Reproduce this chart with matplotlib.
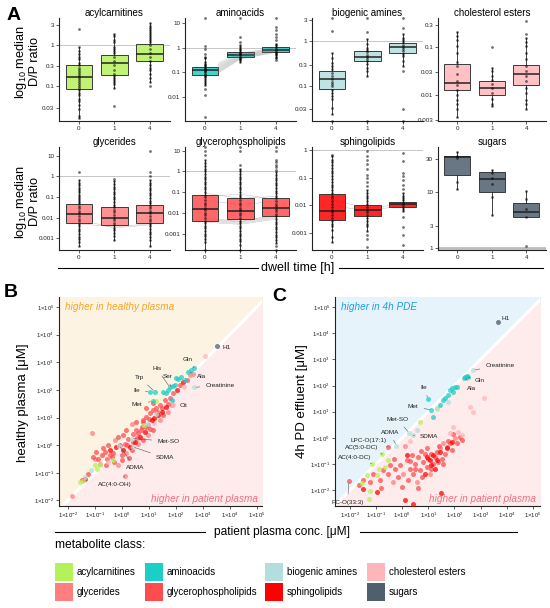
#!/usr/bin/env python3
"""Dwell-time D/P ratio box plots (A) and metabolite concentration scatter plots (B, C)."""
import numpy as np
import matplotlib
matplotlib.use("Agg")
import matplotlib.pyplot as plt
from matplotlib.colors import to_rgba
from matplotlib.lines import Line2D
from matplotlib.patches import Rectangle
from matplotlib.ticker import NullLocator

plt.rcParams["font.family"] = ["Liberation Sans", "DejaVu Sans"]
plt.rcParams["mathtext.fontset"] = "custom"
plt.rcParams["mathtext.rm"] = "Liberation Sans"
plt.rcParams["mathtext.it"] = "Liberation Sans:italic"

# ---------------- metabolite classes ----------------
classes = ["acylcarnitines", "aminoacids", "biogenic amines", "cholesterol esters",
           "glycerides", "glycerophospholipids", "sphingolipids", "sugars"]
class_colors = ["#b5f25a", "#1ccfc6", "#b4dedd", "#ffb6b9",
                "#ff7f80", "#ff4c4f", "#ff0000", "#4f5f6e"]

# ---------------- panel A: log10 D/P ratio, dwell time 0 / 1 / 4 h ----------------
dwell_times = ["0", "1", "4"]

# boxes as [q1, median, q3] (log10 units; sugars in linear units)
acyl_box = [[-1.07, -0.77, -0.50], [-0.73, -0.44, -0.25], [-0.39, -0.23, 0.01]]
acyl_pts_0 = [0.38, -0.05, -0.15, -0.22, -0.3, -0.35, -0.45, -0.5, -0.55, -0.6, -0.65, -0.7, -0.75,
              -0.8, -0.85, -0.9, -0.95, -1.0, -1.05, -1.1, -1.15, -1.2, -1.3, -1.35, -1.45, -1.55, -1.7, -1.75]
acyl_pts_1 = [0.26, 0.2, 0.1, 0.05, -0.05, -0.1, -0.15, -0.2, -0.3, -0.4, -0.5, -0.6, -0.7, -0.75,
              -0.8, -0.85, -0.9, -0.95, -1.05, -1.47]
acyl_pts_4 = [0.51, 0.45, 0.4, 0.35, 0.3, 0.25, 0.2, 0.15, 0.1, 0.05, 0.0, -0.1, -0.2, -0.3, -0.4,
              -0.5, -0.55, -0.6, -0.7, -0.8, -0.9, -1.0]

amino_box = [[-1.09, -0.92, -0.79], [-0.37, -0.27, -0.17], [-0.17, -0.07, 0.02]]
amino_pts_0 = [1.2, 0.08, -0.05, -0.23, -0.35, -0.43, -0.57, -0.65, -0.7, -0.75, -0.8, -0.85, -0.9,
               -0.95, -1.0, -1.05, -1.1, -1.15, -1.2, -1.26, -1.35, -1.45, -1.53, -1.67, -1.94, -2.83]
amino_pts_1 = [1.2, 0.45, 0.25, 0.1, 0.04, -0.05, -0.1, -0.15, -0.2, -0.25, -0.3, -0.35, -0.4,
               -0.45, -0.5, -0.57]
amino_pts_4 = [1.2, 0.86, 0.72, 0.58, 0.45, 0.31, 0.18, 0.1, 0.05, -0.05, -0.1, -0.15, -0.2, -0.25,
               -0.3, -0.35, -0.4, -0.5]
amino_line_0 = [-0.62, -0.68, -0.73, -0.78, -0.82, -0.86, -0.9, -0.94, -0.98, -1.02]
amino_line_1 = [-0.22, -0.25, -0.28, -0.3, -0.33, -0.35, -0.38, -0.4, -0.43, -0.46]
amino_line_4 = [0.02, -0.01, -0.04, -0.06, -0.08, -0.1, -0.12, -0.14, -0.16, -0.18]

bio_box = [[-1.07, -0.85, -0.67], [-0.45, -0.35, -0.22], [-0.26, -0.13, -0.04]]
bio_pts_0 = [0.51, 0.22, -0.26, -0.37, -0.48, -0.55, -0.62, -0.7, -0.78, -0.85, -0.9, -0.95, -1.0,
             -1.08, -1.15, -1.22, -1.3, -1.48, -1.63, -1.77]
bio_pts_1 = [0.51, 0.2, 0.04, -0.07, -0.15, -0.2, -0.25, -0.3, -0.35, -0.4, -0.44, -0.52, -0.6,
             -0.67, -0.78, -1.77]
bio_pts_4 = [0.51, 0.3, 0.15, 0.08, 0.02, -0.03, -0.08, -0.13, -0.18, -0.23, -0.28, -0.33, -0.44,
             -0.55, -0.67, -1.52, -1.77]

chol_box = [[-1.89, -1.75, -1.34], [-2.01, -1.86, -1.70], [-1.80, -1.55, -1.37]]
chol_pts_0 = [-0.67, -0.76, -0.85, -0.96, -1.12, -1.3, -1.4, -1.55, -1.7, -1.8, -1.9, -2.0, -2.1,
              -2.2, -2.3, -2.46]
chol_pts_1 = [-0.99, -1.44, -1.5, -1.6, -1.68, -1.78, -1.86, -1.95, -2.09, -2.19, -2.23]
chol_pts_4 = [-0.45, -0.71, -0.8, -0.88, -0.97, -1.12, -1.25, -1.4, -1.5, -1.6, -1.7, -1.85, -1.95,
              -2.1, -2.2, -2.3]

glyc_box = [[-2.24, -1.85, -1.33], [-2.36, -2.0, -1.5], [-2.24, -1.8, -1.41]]
glyc_pts_0 = [0.21, -0.17, -0.3, -0.42, -0.55, -0.66, -0.78, -0.9, -1.0, -1.1, -1.2, -1.3, -1.42,
              -1.55, -1.68, -1.8, -1.92, -2.05, -2.18, -2.3, -2.42, -2.55, -2.67, -2.8, -2.92, -3.05,
              -3.18, -3.37]
glyc_pts_1 = [-0.13, -0.25, -0.37, -0.5, -0.62, -0.75, -0.87, -1.0, -1.12, -1.25, -1.37, -1.5, -1.62,
              -1.75, -1.87, -2.0, -2.12, -2.25, -2.37, -2.5, -2.62, -2.75, -2.9, -3.08]
glyc_pts_4 = [1.21, 0.21, 0.0, -0.17, -0.3, -0.42, -0.55, -0.68, -0.8, -0.92, -1.05, -1.18, -1.3,
              -1.42, -1.55, -1.68, -1.8, -1.92, -2.05, -2.18, -2.3, -2.42, -2.55, -2.68, -2.8, -2.95,
              -3.1, -3.4]
glyc_line_0 = [-2.3, -2.1]
glyc_line_1 = [-2.45, -2.5]
glyc_line_4 = [-2.3, -2.35]

gpl_box = [[-2.37, -1.79, -1.13], [-2.31, -1.89, -1.27], [-2.15, -1.77, -1.28]]
gpl_pts_0 = [1.18, 0.97, 0.81, 0.55, 0.4, 0.25, 0.12, 0.0, -0.12, -0.25, -0.37, -0.5, -0.62, -0.75,
             -0.87, -1.0, -1.12, -1.25, -1.37, -1.5, -1.62, -1.75, -1.87, -2.0, -2.12, -2.25, -2.37,
             -2.5, -2.62, -2.75, -2.87, -3.0, -3.12, -3.25, -3.4, -3.78]
gpl_pts_1 = [1.18, 0.97, 0.3, 0.12, 0.0, -0.12, -0.25, -0.37, -0.5, -0.62, -0.75, -0.87, -1.0,
             -1.12, -1.25, -1.37, -1.5, -1.62, -1.75, -1.87, -2.0, -2.12, -2.25, -2.37, -2.5, -2.62,
             -2.75, -2.87, -3.0, -3.12, -3.25, -3.37, -3.54, -3.78]
gpl_pts_4 = [1.18, 0.97, 0.57, 0.45, 0.32, 0.2, 0.07, -0.05, -0.17, -0.3, -0.42, -0.55, -0.67, -0.8,
             -0.92, -1.05, -1.17, -1.3, -1.42, -1.55, -1.67, -1.8, -1.92, -2.05, -2.17, -2.3, -2.42,
             -2.55, -2.67, -2.8, -2.92, -3.05, -3.17, -3.3, -3.45, -3.62, -3.78]
gpl_line_0 = [-2.25, -2.3, -2.35, -2.4, -2.45, -1.05, -1.2, -1.4]
gpl_line_1 = [-2.4, -2.42, -2.45, -2.5, -2.55, -1.3, -1.1, -1.6]
gpl_line_4 = [-2.1, -2.15, -2.2, -2.25, -2.3, -1.2, -1.35, -1.45]

spl_box = [[-2.52, -2.2, -1.59], [-2.37, -2.17, -1.98], [-2.07, -1.95, -1.86]]
spl_pts_0 = [-0.18, -0.24, -0.35, -0.45, -0.55, -0.65, -0.75, -0.85, -0.95, -1.05, -1.15, -1.25,
             -1.35, -1.45, -1.55, -1.65, -1.75, -1.85, -1.95, -2.05, -2.15, -2.25, -2.35, -2.45,
             -2.55, -2.65, -2.75, -2.88, -3.12, -3.3]
spl_pts_1 = [-0.06, -0.24, -0.36, -0.5, -0.7, -0.9, -1.0, -1.15, -1.3, -1.45, -1.55, -1.65, -1.75,
             -1.85, -1.95, -2.05, -2.15, -2.25, -2.35, -2.45, -2.55, -2.65, -2.75, -2.9, -3.05,
             -3.2, -3.48]
spl_pts_4 = [-0.1, -0.4, -0.82, -0.95, -1.1, -1.25, -1.4, -1.55, -1.65, -1.75, -1.82, -1.9, -1.98,
             -2.05, -2.12, -2.2, -2.4, -2.76, -3.06, -3.42]
spl_line_0 = [-2.0, -1.8]
spl_line_1 = [-2.2, -2.1]
spl_line_4 = [-2.0, -1.95]

sugar_box = [[17.7, 31.5, 33.0], [9.9, 15.3, 19.6], [4.2, 5.1, 7.0]]
sugar_pts_0 = [37, 33, 31, 14, 11]
sugar_pts_1 = [21, 19, 16, 13, 8.6, 4.6]
sugar_pts_4 = [10.5, 8, 5.6, 4.3, 1.2]

# ---------------- panel B: healthy vs patient plasma (log10 uM) ----------------
b_acyl_x = [-1.56, -1.45, -1.0, -0.81, -0.94, -0.32, 0.81, 1.28]
b_acyl_y = [-1.33, -1.3, -0.73, -0.72, -0.85, -0.54, 0.72, 1.61]
b_amino_x = [1.04, 1.22, 1.14, 1.78, 1.84, 2.67, 2.46, 1.53, 1.65, 1.72, 1.89, 1.96, 2.01, 2.09,
             2.2, 2.32, 2.55]
b_amino_y = [1.93, 1.93, 1.59, 2.09, 1.63, 2.80, 2.66, 1.93, 1.87, 1.99, 2.14, 2.17, 2.42, 2.41,
             2.45, 2.36, 2.72]
b_bio_x = [2.68, 0.36, 0.40, -0.10, -1.15, -1.35, 1.28, 0.95]
b_bio_y = [2.09, 0.24, -0.06, -0.02, -0.88, -1.15, 1.14, 0.75]
b_chol_x = [3.07, 2.3, 1.9, 1.2, 0.6, -0.5]
b_chol_y = [3.22, 2.1, 1.5, 0.8, 0.2, -0.6]
b_glyc_x = [-1.86, -1.12, -1.0, -0.82, -0.14, 0.11, 0.17, 0.36, 0.98, 1.72, 1.84, 2.52, 2.64,
            -0.26, 1.41, 0.61]
b_glyc_y = [-1.85, 0.44, -0.49, -0.67, -0.73, -1.11, -0.3, 0.78, 0.36, 1.2, 1.45, 2.53, 2.59,
            0.18, 0.9, 0.06]
b_gpl_x = [-1.49, -1.25, -1.06, -0.88, -0.75, -0.57, -0.32, -0.01, 0.11, 0.23, 0.42, 0.54, 0.73,
           0.79, 0.91, 0.98, 1.04, 1.16, 1.28, 1.41, 1.59, 1.78, 1.9, 2.15, 2.4, -0.63, -0.51,
           -0.38, -0.07, 0.36, 0.79, 1.16, 1.53, 0.54, 0.17, 0.05, -0.14, 0.91, 1.16, -0.6, -0.3,
           0.0, 0.2, 0.4, 0.6, 0.7, 0.9, 1.0, 1.3, 1.5, 1.7, 0.25, -0.45, 0.8, 1.05, 0.55, -0.7,
           -0.95]
b_gpl_y = [-1.27, -1.03, -0.43, -0.49, -0.37, -0.49, -0.30, -0.55, 0.06, 0.24, 0.42, 0.54, 0.66,
           0.84, 1.02, 0.72, 1.15, 1.27, 1.33, 1.45, 1.63, 1.69, 1.87, 2.17, 2.35, -0.24, 0.0,
           -0.43, 0.0, -0.18, 0.18, 0.54, 1.08, 0.84, 0.54, 0.36, 0.3, 1.33, 1.51, -0.7, -0.6,
           -0.35, 0.0, 0.1, 0.45, 0.55, 0.65, 0.95, 1.2, 1.35, 1.5, -0.45, -0.35, 0.9, 0.6, 0.25,
           -0.1, -0.25]
b_spl_x = [-0.2, 0.05, 0.3, 0.48, 0.67, 0.85, 1.1, 1.35, 1.47, 1.65, 2.03, 2.27, -1.37, -0.44, 1.2]
b_spl_y = [-0.06, -0.18, -0.06, 0.12, 0.3, 0.48, 0.9, 1.08, 1.2, 1.39, 1.99, 2.29, -1.21, -0.18, 1.0]
b_sugar_x = [3.53]
b_sugar_y = [3.60]

b_label_text = ["H1", "Gln", "Ala", "Creatinine", "His", "Ser", "Trp", "Ile", "Met", "Cit",
                "Met-SO", "SDMA", "ADMA", "AC(4:0-OH)"]
b_label_x = [3.53, 2.67, 2.46, 2.68, 1.78, 1.84, 1.22, 1.04, 1.14, 1.84, 0.36, 0.40, -0.10, 0.11]
b_label_y = [3.60, 2.80, 2.66, 2.09, 2.09, 2.05, 1.93, 1.93, 1.59, 1.63, 0.24, -0.06, -0.02, -1.11]
b_label_dx = [9.3, -6, 13.7, 25.7, -13.3, -4.3, -15, -13.3, -15.4, 11.6, 36.6, 32.3, 15.7, -10]
b_label_dy = [-2, 8.7, -5, 2.3, 19, 12.3, 14, 1.7, -3.3, -5.7, -2.7, -11, -21.6, -8.3]

# ---------------- panel C: 4h PD effluent vs patient plasma (log10 uM) ----------------
c_acyl_x = [0.68, 1.32, -0.76, -1.17, -0.53, -0.66, -1.36, -1.23, -1.26, -0.98, -1.55, -0.9]
c_acyl_y = [0.59, 1.16, -0.62, -0.98, -0.83, -1.11, -1.43, -2.04, -2.34, -1.43, -1.74, -1.2]
c_amino_x = [1.0, 1.12, 1.19, 1.44, 1.57, 1.63, 1.76, 1.83, 1.89, 2.02, 2.08, 1.95, 2.4, 2.46,
             2.53, 2.35]
c_amino_y = [1.49, 1.06, 0.81, 1.25, 1.44, 1.51, 1.63, 1.83, 1.89, 1.95, 1.93, 1.75, 2.34, 2.36,
             2.31, 2.28]
c_bio_x = [2.72, 0.27, 0.42, -0.22, 0.55, 1.76, 1.32]
c_bio_y = [2.59, 0.19, 0.10, -0.30, 0.30, 1.38, 1.12]
c_chol_x = [3.14, 2.59, 2.72, 1.83, 2.14, 2.27, 0.30, 1.95]
c_chol_y = [1.53, 1.19, 1.0, 0.17, 0.23, 0.10, -0.12, 0.4]
c_glyc_x = [0.04, 0.55, 1.06, -0.34, 2.02, 1.57, 1.44, 0.1]
c_glyc_y = [-1.36, -1.68, -1.36, -1.68, -0.02, -0.21, -0.40, -0.3]
c_gpl_x = [-1.64, -1.49, -1.23, -1.11, -0.85, -0.72, -0.53, -0.47, -0.28, -0.15, -0.09, -0.02,
           0.17, 0.23, 0.30, 0.36, 0.42, 0.49, 0.61, 0.68, 0.74, 0.80, 0.87, 0.93, 1.0, 1.12, 1.19,
           1.25, 1.32, 1.38, 1.51, 1.63, 1.70, 1.83, 1.89, 2.08, 2.21, 2.27, -0.53, -2.04, 0.5,
           0.95, 1.4, 0.7, 1.1, 0.3, -0.3, 1.55, 1.75, 0.6, -0.8, 1.95]
c_gpl_y = [-1.78, -1.62, -1.68, -1.36, -1.62, -1.23, -1.36, -1.04, -1.17, -1.49, -1.04, -1.87,
           -0.85, -1.62, -1.17, -0.66, -1.36, -0.98, -0.72, -1.23, -1.49, -0.92, -0.60, -1.11,
           -0.79, -0.60, -0.98, -0.72, -0.53, -0.92, -0.79, -0.60, -0.34, -0.21, -0.47, -0.21,
           0.02, -0.09, -0.34, -1.66, -1.2, -0.4, -0.3, -0.5, -1.2, -0.9, -0.8, -1.0, -0.1, -1.9,
           -1.9, 0.15]
c_spl_x = [0.93, 1.06, 1.19, 1.12, 1.32, 1.25, 0.87, 1.44, 1.70, 1.89, 0.17, -1.49, -0.98, 1.47,
           0.10, 0.40]
c_spl_y = [-0.72, -0.85, -0.66, -1.04, -0.85, -1.17, -1.36, -0.53, -0.40, -0.15, -0.66, -1.94,
           -2.06, -2.10, -2.38, -2.51]
c_sugar_x = [3.65]
c_sugar_y = [4.41]

c_label_text = ["H1", "Creatinine", "Gln", "Ala", "Ile", "Met", "Met-SO", "SDMA", "ADMA",
                "LPC-O(17:1)", "AC(5:0-DC)", "AC(4:0-DC)", "PC-O(33:3)"]
c_label_x = [3.65, 2.72, 2.53, 2.40, 1.0, 1.12, 0.27, 0.42, -0.22, -0.53, -0.76, -1.17, -2.04]
c_label_y = [4.41, 2.59, 2.31, 2.34, 1.49, 1.06, 0.19, 0.10, -0.30, -0.34, -0.62, -0.98, -1.66]
c_label_dx = [8.3, 26.7, 11.7, 6.7, -5, -18.3, -11.7, 16, -6.7, -19.3, -20.7, -16.7, -1.3]
c_label_dy = [4, 4.3, -2.7, -11.7, 11.3, 4, 13.3, -1.7, 13.3, 6.7, 6.7, 5.7, -20.7]

# ---------------- layout helpers ----------------
W, H = 550, 608
fig = plt.figure(figsize=(W / 100, H / 100), dpi=100)


def add_ax(left, top, right, bottom):
    return fig.add_axes([left / W, 1 - bottom / H, (right - left) / W, (bottom - top) / H])


def fx(px):
    return px / W


def fy(py):
    return 1 - py / H


def asinh_t(v):
    return 2 * np.arcsinh(np.asarray(v, float) / 2)


def asinh_inv(v):
    return 2 * np.sinh(np.asarray(v, float) / 2)


def box_stats(box, pts, log):
    """ggplot-style box stats; whiskers reach the last point within 1.5 IQR."""
    stats = []
    for (q1, med, q3), p in zip(box, pts):
        if log:
            t_q1, t_med, t_q3, t_p = q1, med, q3, np.asarray(p, float)
            back = lambda v: 10.0 ** v
        else:
            t_q1, t_med, t_q3, t_p = asinh_t(q1), asinh_t(med), asinh_t(q3), asinh_t(p)
            back = asinh_inv
        iqr = t_q3 - t_q1
        inside = t_p[(t_p >= t_q1 - 1.5 * iqr) & (t_p <= t_q3 + 1.5 * iqr)]
        lo = min(inside.min(), t_q1) if inside.size else t_q1
        hi = max(inside.max(), t_q3) if inside.size else t_q3
        stats.append(dict(q1=float(back(t_q1)), med=float(back(t_med)), q3=float(back(t_q3)),
                          whislo=float(back(lo)), whishi=float(back(hi)), fliers=[]))
    return stats


def style_axes(ax):
    for side in ("top", "right"):
        ax.spines[side].set_visible(False)
    for side in ("left", "bottom"):
        ax.spines[side].set_linewidth(0.8)
        ax.spines[side].set_color("#222222")
    ax.tick_params(length=2, width=0.5, labelsize=4.5, pad=1.5, colors="#222222")
    ax.yaxis.set_minor_locator(NullLocator())


def draw_box_panel(ax, title, box, pts, color, ylim, yticks, log=True, lines=None, lines_on_top=False):
    if log:
        ax.set_yscale("log")
        pts_real = [10.0 ** np.asarray(p, float) for p in pts]
    else:
        ax.set_yscale("asinh", linear_width=2)
        pts_real = [np.asarray(p, float) for p in pts]
    ax.axhline(1, color="#bdbdbd", lw=0.6 if log else 2.0, zorder=0.5)

    if lines is not None:
        t0, t1, t4 = lines
        for a, b, c in zip(t0, t1, t4):
            if lines_on_top:
                xs, z = [0.375, 1, 2], 3
            else:
                xs, z = [0, 1, 2], 1
            ax.plot(xs, 10.0 ** np.array([a, b, c]), color="#707070", lw=0.25, alpha=0.6, zorder=z)

    ax.bxp(box_stats(box, pts, log), positions=[0, 1, 2], widths=0.75, patch_artist=True,
           showcaps=False, manage_ticks=False,
           boxprops=dict(facecolor=to_rgba(color, 0.85), edgecolor="#3a3a3a", linewidth=0.7),
           medianprops=dict(color="#222222", linewidth=1.1),
           whiskerprops=dict(color="#222222", linewidth=0.6), zorder=2)

    for i, p in enumerate(pts_real):
        ax.scatter(np.full(len(p), i), p, s=4, color="black", alpha=0.55, lw=0, zorder=4, clip_on=False)

    ax.set_xlim(-0.56, 2.57)
    ax.set_ylim(*ylim)
    ax.set_xticks([0, 1, 2])
    ax.set_xticklabels(dwell_times)
    ax.set_yticks(yticks)
    ax.set_yticklabels([f"{t:g}" for t in yticks])
    style_axes(ax)
    ax.set_title(title, fontsize=7, pad=1.5)


# ---------------- panel A ----------------
row1, row2 = (18, 121), (147, 250)
cols = [(59, 170), (185, 296), (312, 423), (438, 546)]

ax = add_ax(cols[0][0], row1[0], cols[0][1], row1[1])
draw_box_panel(ax, classes[0], acyl_box, [acyl_pts_0, acyl_pts_1, acyl_pts_4], class_colors[0],
               (10 ** -1.83, 10 ** 0.635), [0.03, 0.1, 0.3, 1, 3])
ax = add_ax(cols[1][0], row1[0], cols[1][1], row1[1])
draw_box_panel(ax, classes[1], amino_box, [amino_pts_0, amino_pts_1, amino_pts_4], class_colors[1],
               (10 ** -2.98, 10 ** 1.22), [0.01, 0.1, 1, 10],
               lines=(amino_line_0, amino_line_1, amino_line_4), lines_on_top=True)
ax = add_ax(cols[2][0], row1[0], cols[2][1], row1[1])
draw_box_panel(ax, classes[2], bio_box, [bio_pts_0, bio_pts_1, bio_pts_4], class_colors[2],
               (10 ** -1.78, 10 ** 0.515), [0.03, 0.1, 0.3, 1, 3])
ax = add_ax(cols[3][0], row1[0], cols[3][1], row1[1])
draw_box_panel(ax, classes[3], chol_box, [chol_pts_0, chol_pts_1, chol_pts_4], class_colors[3],
               (10 ** -2.55, 10 ** -0.38), [0.003, 0.01, 0.03, 0.1, 0.3])

ax = add_ax(cols[0][0], row2[0], cols[0][1], row2[1])
draw_box_panel(ax, classes[4], glyc_box, [glyc_pts_0, glyc_pts_1, glyc_pts_4], class_colors[4],
               (10 ** -3.57, 10 ** 1.42), [0.001, 0.01, 0.1, 1, 10],
               lines=(glyc_line_0, glyc_line_1, glyc_line_4))
ax = add_ax(cols[1][0], row2[0], cols[1][1], row2[1])
draw_box_panel(ax, classes[5], gpl_box, [gpl_pts_0, gpl_pts_1, gpl_pts_4], class_colors[5],
               (10 ** -3.79, 10 ** 1.18), [0.001, 0.01, 0.1, 1, 10],
               lines=(gpl_line_0, gpl_line_1, gpl_line_4))
ax = add_ax(cols[2][0], row2[0], cols[2][1], row2[1])
draw_box_panel(ax, classes[6], spl_box, [spl_pts_0, spl_pts_1, spl_pts_4], class_colors[6],
               (10 ** -3.6, 10 ** 0.1), [0.001, 0.01, 0.1, 1],
               lines=(spl_line_0, spl_line_1, spl_line_4))
ax = add_ax(cols[3][0], row2[0], cols[3][1], row2[1])
draw_box_panel(ax, classes[7], sugar_box, [sugar_pts_0, sugar_pts_1, sugar_pts_4], class_colors[7],
               (0.875, 44), [1, 3, 10, 30], log=False)

for yc in (62, 202):
    fig.text(fx(27), fy(yc), "log$_{10}$ median\nD/P ratio", rotation=90, ha="center", va="center",
             fontsize=9.2, linespacing=0.9)

fig.text(fx(298), fy(268), "dwell time [h]", ha="center", va="center", fontsize=9)
fig.add_artist(Line2D([fx(58), fx(258)], [fy(268), fy(268)], color="black", lw=0.8))
fig.add_artist(Line2D([fx(339), fx(543)], [fy(268), fy(268)], color="black", lw=0.8))


# ---------------- panels B and C ----------------
def draw_scatter_panel(ax, series, labels, lim, upper_color, upper_text, upper_text_color):
    ax.set_xscale("log")
    ax.set_yscale("log")
    diag = np.array([1e-4, 1e7])
    ax.fill_between(diag, diag, 1e8, color=upper_color, lw=0, zorder=0)
    ax.fill_between(diag, 1e-5, diag, color="#fdeceb", lw=0, zorder=0)
    ax.plot(diag, diag, color="white", lw=2.2, zorder=1)

    for lx, ly, col in series:
        ax.scatter(10.0 ** np.asarray(lx), 10.0 ** np.asarray(ly), s=13, color=col, alpha=0.75,
                   lw=0, zorder=3)

    for text, lx, ly, dx, dy in zip(*labels):
        ax.annotate(text, xy=(10.0 ** lx, 10.0 ** ly), xytext=(dx * 0.72, dy * 0.72),
                    textcoords="offset points", ha="center", va="center", fontsize=4.6,
                    color="#222222", zorder=5,
                    arrowprops=dict(arrowstyle="-", color="#555555", lw=0.4, shrinkA=2, shrinkB=1.5))

    ax.set_xlim(*lim[0])
    ax.set_ylim(*lim[1])
    ticks = 10.0 ** np.arange(-2, 6)
    tick_labels = [rf"$1{{\times}}10^{{{e}}}$" for e in range(-2, 6)]
    ax.set_xticks(ticks)
    ax.set_xticklabels(tick_labels)
    ax.set_yticks(ticks)
    ax.set_yticklabels(tick_labels)
    ax.xaxis.set_minor_locator(NullLocator())
    style_axes(ax)
    ax.tick_params(labelsize=4.3)

    ax.text(0.03, 0.952, upper_text, transform=ax.transAxes, ha="left", va="center",
            style="italic", fontsize=7.2, color=upper_text_color)
    ax.text(0.98, 0.033, "higher in patient plasma", transform=ax.transAxes, ha="right",
            va="center", style="italic", fontsize=7.2, color="#f0707f")


b_series = [(b_glyc_x, b_glyc_y, class_colors[4]), (b_gpl_x, b_gpl_y, class_colors[5]),
            (b_chol_x, b_chol_y, class_colors[3]), (b_spl_x, b_spl_y, class_colors[6]),
            (b_acyl_x, b_acyl_y, class_colors[0]), (b_bio_x, b_bio_y, class_colors[2]),
            (b_amino_x, b_amino_y, class_colors[1]), (b_sugar_x, b_sugar_y, class_colors[7])]
c_series = [(c_glyc_x, c_glyc_y, class_colors[4]), (c_gpl_x, c_gpl_y, class_colors[5]),
            (c_chol_x, c_chol_y, class_colors[3]), (c_spl_x, c_spl_y, class_colors[6]),
            (c_acyl_x, c_acyl_y, class_colors[0]), (c_bio_x, c_bio_y, class_colors[2]),
            (c_amino_x, c_amino_y, class_colors[1]), (c_sugar_x, c_sugar_y, class_colors[7])]

ax_b = add_ax(59, 297, 262, 506)
draw_scatter_panel(ax_b, b_series,
                   (b_label_text, b_label_x, b_label_y, b_label_dx, b_label_dy),
                   ((10 ** -2.33, 10 ** 5.19), (10 ** -2.2, 10 ** 5.36)),
                   "#fdf3e3", "higher in healthy plasma", "#f5a623")
ax_c = add_ax(335, 297, 540, 506)
draw_scatter_panel(ax_c, c_series,
                   (c_label_text, c_label_x, c_label_y, c_label_dx, c_label_dy),
                   ((10 ** -2.57, 10 ** 5.27), (10 ** -2.6, 10 ** 5.38)),
                   "#e6f3fb", "higher in 4h PDE", "#1e9fe6")

fig.text(fx(23), fy(403), "healthy plasma [μM]", rotation=90, ha="center", va="center", fontsize=9.5)
fig.text(fx(302), fy(401), "4h PD effluent [μM]", rotation=90, ha="center", va="center", fontsize=9.5)

fig.text(fx(282), fy(532), "patient plasma conc. [μM]", ha="center", va="center", fontsize=8.6)
fig.add_artist(Line2D([fx(55), fx(205)], [fy(532), fy(532)], color="black", lw=0.8))
fig.add_artist(Line2D([fx(360), fx(517)], [fy(532), fy(532)], color="black", lw=0.8))

# panel letters
fig.text(fx(7), fy(15), "A", fontsize=14, fontweight="bold", ha="left", va="center")
fig.text(fx(4), fy(293), "B", fontsize=14, fontweight="bold", ha="left", va="center")
fig.text(fx(272), fy(296), "C", fontsize=14, fontweight="bold", ha="left", va="center")

# ---------------- legend ----------------
fig.text(fx(55), fy(545), "metabolite class:", ha="left", va="center", fontsize=8.7)
legend_cols = [55, 145, 265, 367]
legend_rows = [563, 583]
for i, (name, col) in enumerate(zip(classes, class_colors)):
    x0 = legend_cols[i % 4]
    y0 = legend_rows[i // 4]
    fig.add_artist(Rectangle((fx(x0), fy(y0 + 18)), 18 / W, 18 / H, transform=fig.transFigure,
                             facecolor=col, edgecolor="none"))
    fig.text(fx(x0 + 22), fy(y0 + 9), name, ha="left", va="center", fontsize=7)

fig.savefig("out.png", dpi=100)
